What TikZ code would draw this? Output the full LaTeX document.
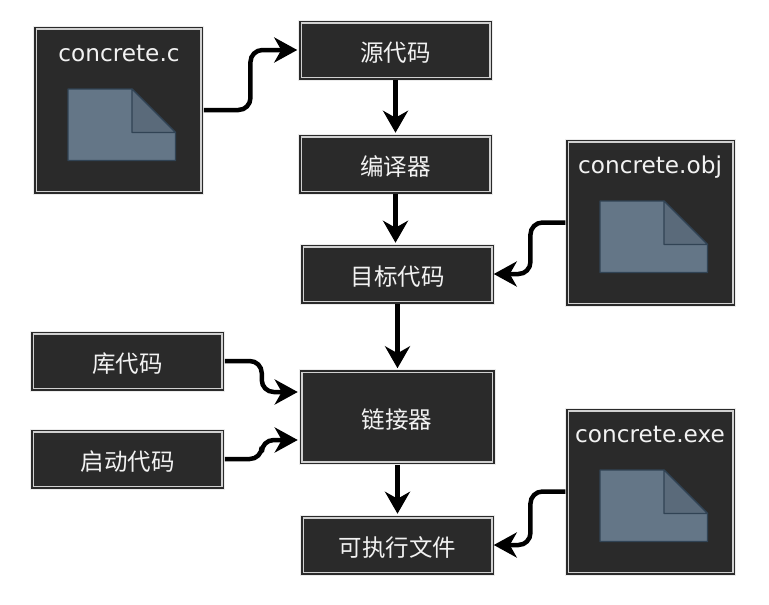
\documentclass[tikz,border=0pt]{standalone}
\usepackage{fontspec}
\setmainfont{DejaVu Sans}
\newfontfamily\cjk{Noto Sans CJK SC}
\usetikzlibrary{arrows.meta,calc}
\definecolor{boxdark}{HTML}{2A2A2A}
\definecolor{boxline}{HTML}{D0D0D0}
\definecolor{boxhalo}{HTML}{ECECEC}
\definecolor{docfill}{HTML}{647687}
\definecolor{docfold}{HTML}{5A6A7A}
\definecolor{docline}{HTML}{314354}
\tikzset{
  x=1pt,y=-1pt,
  box/.style={rectangle,fill=boxdark,draw=boxdark,line width=4.5pt,outer sep=2pt,inner sep=0pt,
    text=white!95!black,font=\cjk\fontsize{23.5}{27}\selectfont,
    preaction={draw=boxhalo,line width=6.5pt},
    postaction={draw=boxline,line width=1.5pt}},
  stepbox/.style={box,minimum width=188.5pt,minimum height=54.5pt,text height=23pt,text depth=0pt},
  filetitle/.style={text=white!95!black,font=\fontsize{23.2}{27}\selectfont,inner sep=0pt},
  link/.style={draw=black,line width=4.5pt,rounded corners=12pt,
    -{Stealth[length=23pt,width=25pt,inset=7pt]},shorten >=0pt,shorten <=1pt},
  linkin/.style={link,shorten >=2pt},
  straight/.style={draw=black,line width=4.5pt,
    -{Stealth[length=22pt,width=25pt,inset=7pt]},shorten >=2pt,shorten <=1pt},
  doc/.style={draw=docline,line width=1.2pt,line join=round},
  pics/docicon/.style={code={
    \draw[doc,fill=docfill] (0,0) -- (64,0) -- (107.5,43.5) -- (107.5,71.5) -- (0,71.5) -- cycle;
    \draw[doc,fill=docfold] (64,0) -- (107.5,43.5) -- (64,43.5) -- cycle;
  }}
}
\begin{document}
\begin{tikzpicture}
\useasboundingbox (0,0) rectangle (769,605);
\fill[white] (0,0) rectangle (769,605);
% file boxes
\node[box,minimum width=164.5pt,minimum height=162.5pt] (cfile) at (118.7,110) {};
\node[box,minimum width=164.5pt,minimum height=161.5pt] (objfile) at (650.7,222.5) {};
\node[box,minimum width=164.5pt,minimum height=161.5pt] (exefile) at (650.7,491.5) {};
\node[filetitle] (ctitle) at (119,54) {concrete.c};
\node[filetitle] (objtitle) at (650,167) {concrete.obj};
\node[filetitle] (exetitle) at (650,435) {concrete.exe};
\pic at (68,89) {docicon};
\pic at (600,201) {docicon};
\pic at (600,470) {docicon};
% step boxes
\node[stepbox] (src) at (395.5,50) {源代码};
\node[stepbox] (cmp) at (395.5,164) {编译器};
\node[stepbox] (tgt) at (397.5,274) {目标代码};
\node[stepbox] (lib) at (127.5,361) {库代码};
\node[stepbox] (start) at (127.5,459) {启动代码};
\node[stepbox,minimum width=190.5pt,minimum height=89.5pt] (lnk) at (397,417) {链接器};
\node[stepbox] (exe) at (397.5,545) {可执行文件};
% connectors
\draw[linkin] (cfile.east) -- ++(47.5,0) |- (src.west);
\draw[straight] (src.south) -- (cmp.north);
\draw[straight] (cmp.south) -- (tgt.north -| cmp.south);
\draw[straight] (tgt.south) -- (lnk.north -| tgt.south);
\draw[straight] (lnk.south -| exe.north) -- (exe.north);
\draw[link] (objfile.west) -- ++(-36,0) |- (tgt.east);
\draw[link] (exefile.west) -- ++(-36,0) |- (exe.east);
\draw[linkin] (lib.east) -- ++(38,0) |- ($(lnk.west)+(0,-25)$);
\draw[linkin] (start.east) -- ++(38,0) |- ($(lnk.west)+(0,23)$);
\end{tikzpicture}
\end{document}
